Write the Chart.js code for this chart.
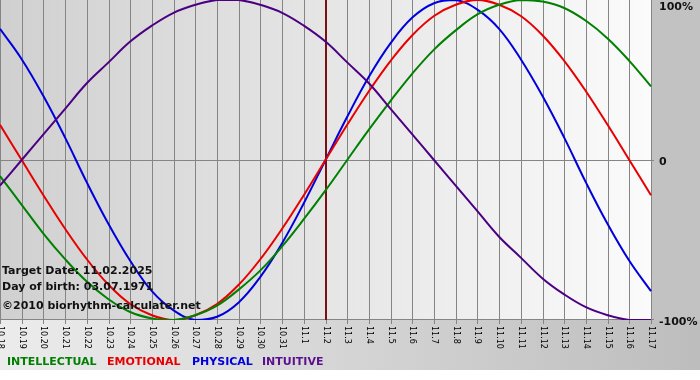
<!DOCTYPE html>
<html><head><meta charset="utf-8">
<script src="https://cdn.jsdelivr.net/npm/chart.js@4"></script>
<style>html,body{margin:0;padding:0;background:#fff;}#wrap{width:700px;height:380px;}</style>
</head><body><div id="wrap"><canvas id="c" width="700" height="380"></canvas></div>
<script>
const categories = ['10.18','10.19','10.20','10.21','10.22','10.23','10.24','10.25','10.26','10.27','10.28','10.29','10.30','10.31','11.1','11.2','11.3','11.4','11.5','11.6','11.7','11.8','11.9','11.10','11.11','11.12','11.13','11.14','11.15','11.16','11.17'];
const intellectual = [-10,-28,-46,-62,-76,-87,-95,-99,-100,-97,-91,-81,-69,-54,-37,-19,0,19,37,54,69,81,91,97,100,99,95,87,76,62,46];
const emotional = [22,0,-22,-43,-62,-78,-90,-97,-100,-97,-90,-78,-62,-43,-22,0,22,43,62,78,90,97,100,97,90,78,62,43,22,0,-22];
const physical = [82,63,40,14,-14,-40,-63,-82,-94,-100,-98,-89,-73,-52,-27,0,27,52,73,89,98,100,94,82,63,40,14,-14,-40,-63,-82];
const intuitive = [-16,0,16,32,48,61,74,84,92,97,100,100,97,92,84,74,61,48,32,16,0,-16,-32,-48,-61,-74,-84,-92,-97,-100,-100];
const yTicks = [100, 0, -100];
const yTickLabels = ['100%', '0', '-100%'];
const targetLabel = '11.2';
const infoLines = ['Target Date: 11.02.2025', 'Day of birth: 03.07.1971', '\u00A92010 biorhythm-calculater.net'];
const legendNames = ['INTELLECTUAL', 'EMOTIONAL', 'PHYSICAL', 'INTUITIVE'];

const colors = { intellectual: '#008000', emotional: '#e80000', physical: '#0000dd', intuitive: '#4b0082' };
const legendColors = ['#008000', '#e80000', '#0000dd', '#5b1090'];
const legendX = [7, 107, 192, 262];

const decor = {
  id: 'decor',
  beforeDraw(chart) {
    const ctx = chart.ctx, a = chart.chartArea;
    ctx.save();
    ctx.fillStyle = '#ffffff';
    ctx.fillRect(0, 0, 700, 380);
    let g = ctx.createLinearGradient(0, 0, 700, 0);
    g.addColorStop(0, '#ececec'); g.addColorStop(1, '#bdbdbd');
    ctx.fillStyle = g; ctx.fillRect(0, 0, 700, 370);
    ctx.fillStyle = '#c2c2c2'; ctx.fillRect(a.right, 0, 700 - a.right, a.bottom);
    g = ctx.createLinearGradient(a.left, 0, a.right, 0);
    g.addColorStop(0, '#d0d0d0'); g.addColorStop(1, '#fbfbfb');
    ctx.fillStyle = g; ctx.fillRect(a.left, a.top, a.right - a.left, a.bottom - a.top);
    ctx.restore();
  },
  beforeDatasetsDraw(chart) {
    const ctx = chart.ctx, a = chart.chartArea, xs = chart.scales.x, ys = chart.scales.y;
    ctx.save();
    ctx.strokeStyle = '#858585'; ctx.lineWidth = 1;
    categories.forEach((c, i) => {
      const x = Math.round(xs.getPixelForValue(i)) + 0.5;
      ctx.beginPath(); ctx.moveTo(x, a.top); ctx.lineTo(x, a.bottom + 4); ctx.stroke();
    });
    const y0 = Math.round(ys.getPixelForValue(0)) + 0.5;
    ctx.beginPath(); ctx.moveTo(a.left, y0); ctx.lineTo(a.right + 3, y0); ctx.stroke();
    const yb = Math.round(ys.getPixelForValue(-100)) - 0.5;
    ctx.beginPath(); ctx.moveTo(a.left, yb); ctx.lineTo(a.right + 3, yb); ctx.stroke();
    const xt = xs.getPixelForValue(categories.indexOf(targetLabel));
    ctx.strokeStyle = '#7a1010'; ctx.lineWidth = 2;
    ctx.beginPath(); ctx.moveTo(Math.round(xt), a.top); ctx.lineTo(Math.round(xt), a.bottom); ctx.stroke();
    ctx.restore();
  },
  afterDatasetsDraw(chart) {
    const ctx = chart.ctx, a = chart.chartArea, xs = chart.scales.x, ys = chart.scales.y;
    ctx.save();
    ctx.font = 'bold 11px "DejaVu Sans"';
    ctx.fillStyle = '#111111'; ctx.textAlign = 'left'; ctx.textBaseline = 'middle';
    const infoY = [271, 287, 306];
    infoLines.forEach((t, i) => ctx.fillText(t, 2, infoY[i]));
    yTicks.forEach((v, i) => {
      const y = Math.max(ys.getPixelForValue(v) + 2, 7);
      ctx.fillText(yTickLabels[i], a.right + 8, y);
    });
    legendNames.forEach((t, i) => { ctx.fillStyle = legendColors[i]; ctx.fillText(t, legendX[i], 362); });
    ctx.font = '8px "DejaVu Sans"'; ctx.fillStyle = '#000';
    categories.forEach((c, i) => {
      const x = xs.getPixelForValue(i);
      ctx.save(); ctx.translate(Math.round(x) + 0.5, a.bottom + 6); ctx.rotate(Math.PI / 2);
      ctx.fillText(c, 0, 0); ctx.restore();
    });
    ctx.restore();
  }
};

const mk = (label, data, color) => ({ label, data, borderColor: color, borderWidth: 2, pointRadius: 0, tension: 0.4, fill: false });

new Chart(document.getElementById('c'), {
  type: 'line',
  data: {
    labels: categories,
    datasets: [
      mk('INTUITIVE', intuitive, colors.intuitive),
      mk('INTELLECTUAL', intellectual, colors.intellectual),
      mk('EMOTIONAL', emotional, colors.emotional),
      mk('PHYSICAL', physical, colors.physical)
    ]
  },
  options: {
    responsive: false, animation: false, devicePixelRatio: 1,
    layout: { padding: { left: 0, top: 0, right: 49, bottom: 60 } },
    plugins: { legend: { display: false }, tooltip: { enabled: false } },
    scales: {
      x: { type: 'category', offset: false, display: false },
      y: { min: -100, max: 100, display: false }
    }
  },
  plugins: [decor]
});
</script></body></html>
